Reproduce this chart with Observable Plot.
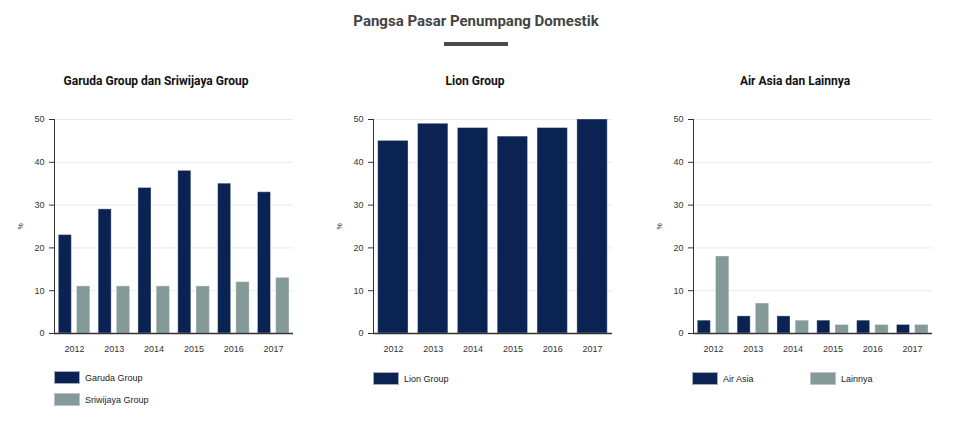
<!DOCTYPE html>
<html>
<head>
<meta charset="utf-8">
<script src="https://cdn.jsdelivr.net/npm/d3@7"></script>
<script src="https://cdn.jsdelivr.net/npm/@observablehq/plot@0.6"></script>
<style>
  html, body { margin: 0; padding: 0; background: #fff; }
  body { width: 971px; height: 432px; position: relative; overflow: hidden; font-family: "Liberation Sans", Arial, sans-serif; }
  #title { position: absolute; left: 0; width: 952px; top: 12px; text-align: center; font-family: Roboto, sans-serif; font-weight: 700; font-size: 15px; color: #444; }
  #bar { position: absolute; left: 444px; top: 42px; width: 64px; height: 4px; background: #4a4a4a; }
  .sub { position: absolute; top: 74px; width: 320px; text-align: center; font-family: Roboto, sans-serif; font-weight: 700; font-size: 12px; color: #111; }
  .chart { position: absolute; top: 100px; }
  .chart svg [aria-label="y-axis label"] text { font-size: 7px; }
  .leg { position: absolute; font-size: 9px; color: #222; display: flex; align-items: center; }
  .sw { width: 24px; height: 11px; margin-right: 5px; border: 1px solid rgba(200,205,215,0.8); }
</style>
</head>
<body>
<div id="title">Pangsa Pasar Penumpang Domestik</div>
<div id="bar"></div>
<script>
const years = ["2012", "2013", "2014", "2015", "2016", "2017"];
const yTicks = [0, 10, 20, 30, 40, 50];
const garuda = [23, 29, 34, 38, 35, 33];
const sriwijaya = [11, 11, 11, 11, 12, 13];
const lion = [45, 49, 48, 46, 48, 50];
const airAsia = [3, 4, 4, 3, 3, 2];
const lainnya = [18, 7, 3, 2, 2, 2];
const panelTitles = ["Garuda Group dan Sriwijaya Group", "Lion Group", "Air Asia dan Lainnya"];
const navy = "#0b2352";
const grey = "#849a99";

const panels = [
  { left: 0, title: panelTitles[0], series: [
      { name: "Garuda Group", values: garuda, color: navy },
      { name: "Sriwijaya Group", values: sriwijaya, color: grey }],
    legend: [[54, 371], [54, 393]] },
  { left: 319, title: panelTitles[1], series: [
      { name: "Lion Group", values: lion, color: navy }],
    legend: [[373, 372]] },
  { left: 639, title: panelTitles[2], series: [
      { name: "Air Asia", values: airAsia, color: navy },
      { name: "Lainnya", values: lainnya, color: grey }],
    legend: [[692, 372], [810, 372]] }
];

for (const p of panels) {
  const sub = document.createElement("div");
  sub.className = "sub";
  sub.style.left = (p.left - 4) + "px";
  sub.textContent = p.title;
  document.body.appendChild(sub);

  const n = p.series.length;
  const marks = p.series.map((s, k) => {
    const rows = years.map((y, i) => ({ year: y, value: s.values[i] }));
    let insetLeft, insetRight;
    if (n === 1) { insetLeft = 4.7; insetRight = 4.8; }
    else if (k === 0) { insetLeft = 4.3; insetRight = 22.5; }
    else { insetLeft = 22.5; insetRight = 4; }
    return Plot.barY(rows, { x: "year", y: "value", fill: s.color, insetLeft, insetRight,
      stroke: "#ffffff", strokeOpacity: 0.35, strokeWidth: 1 });
  });
  marks.push(Plot.ruleY([0], { stroke: "#333", strokeWidth: 1.5 }));

  const chart = Plot.plot({
    width: 320, height: 265,
    marginLeft: 54, marginRight: 27, marginTop: 19, marginBottom: 32,
    style: { fontFamily: "'Liberation Sans', Arial, sans-serif", fontSize: "9px", color: "#333", background: "transparent", overflow: "visible" },
    x: { domain: years, padding: 0, round: false, tickSize: 0, tickPadding: 12, label: null },
    y: { domain: [0, 50], ticks: yTicks, grid: true, line: true, tickSize: 5, tickPadding: 5,
         label: "%", labelAnchor: "center", labelOffset: 36, labelArrow: "none" },
    marks
  });
  const wrap = document.createElement("div");
  wrap.className = "chart";
  wrap.style.left = p.left + "px";
  wrap.appendChild(chart);
  document.body.appendChild(wrap);

  p.series.forEach((s, k) => {
    const leg = document.createElement("div");
    leg.className = "leg";
    leg.style.left = p.legend[k][0] + "px";
    leg.style.top = p.legend[k][1] + "px";
    const sw = document.createElement("div");
    sw.className = "sw";
    sw.style.background = s.color;
    const t = document.createElement("span");
    t.textContent = s.name;
    leg.appendChild(sw);
    leg.appendChild(t);
    document.body.appendChild(leg);
  });
}
</script>
</body>
</html>
